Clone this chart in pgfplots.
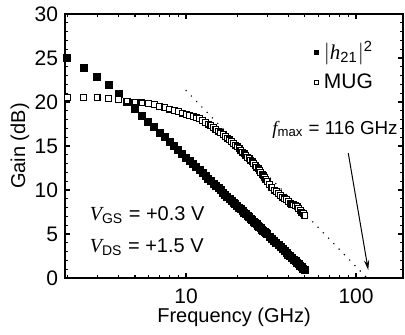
\documentclass[border=0pt]{standalone}
\usepackage{fontspec}
\setmainfont{Liberation Sans}
\newfontfamily\tms{Liberation Serif}
\usepackage{pgfplots}
\pgfplotsset{compat=1.18}
\usetikzlibrary{arrows.meta}
\newcommand{\itv}[1]{{\tms\itshape #1}}
\begin{document}
\begin{tikzpicture}
\begin{axis}[
  scale only axis, width=169pt, height=132pt,
  xmode=log, xmin=1.94, xmax=189, ymin=0, ymax=30,
  xtick={10,100}, xticklabels={10,100},
  minor xtick={2,3,4,5,6,7,8,9,20,30,40,50,60,70,80,90},
  ytick={0,5,10,15,20,25,30}, minor y tick num=4,
  axis line style={line width=0.8pt},
  tick style={line width=0.6pt, black},
  major tick length=2.5pt, minor tick length=1.5pt,
  font=\fontsize{10}{12}\selectfont,
  tick label style={font=\fontsize{10.5}{12}\selectfont},
  /pgf/number format/assume math mode=true,
  xticklabel style={yshift=-2pt},
  xlabel={Frequency (GHz)}, ylabel={Gain (dB)},
  xlabel style={at={(axis description cs:0.5,-0.15)}, anchor=center},
  ylabel style={at={(axis description cs:-0.133,0.5)}, anchor=center},
  clip=false,
  legend style={at={(axis description cs:0.738,0.905)}, anchor=north west, draw=none, fill=none,
     inner sep=0pt, row sep=3.5pt, nodes={inner sep=1pt, anchor=west},
     font=\fontsize{10.5}{12}\selectfont,
     /tikz/every odd column/.append style={column sep=1.5pt}},
  legend cell align=left,
  legend image code/.code={\draw[#1,mark size=1pt] plot coordinates {(0cm,0cm)};},
]
\addplot[only marks, mark=square*, mark size=1.75pt, black] coordinates {
(2,25.0)(2.5,23.9)(3,22.9)(3.5,21.9)(4,20.9)(4.5,20.0)(5,19.2)(5.5,18.44)(6,17.75)(6.5,17.12)(7,16.53)(7.5,15.98)(8,15.46)(8.5,14.98)(9,14.53)(9.5,14.10)(10,13.69)(10.5,13.30)(11,12.93)(11.5,12.58)(12,12.24)(12.5,11.92)(13,11.61)(13.5,11.31)(14,11.02)(14.5,10.74)(15,10.47)(15.5,10.21)(16,9.96)(16.5,9.71)(17,9.47)(17.5,9.24)(18,9.02)(18.5,8.80)(19,8.59)(19.5,8.38)(20,8.18)(20.5,7.99)(21,7.80)(21.5,7.61)(22,7.42)(22.5,7.25)(23,7.07)(23.5,6.90)(24,6.73)(24.5,6.57)(25,6.41)(25.5,6.25)(26,6.10)(26.5,5.95)(27,5.80)(27.5,5.65)(28,5.51)(28.5,5.37)(29,5.23)(29.5,5.09)(30,4.96)(31,4.70)(32,4.45)(33,4.20)(34,3.97)(35,3.73)(36,3.51)(37,3.29)(38,3.08)(39,2.87)(40,2.67)(41,2.48)(42,2.29)(43,2.10)(44,1.92)(45,1.74)(46,1.56)(47,1.39)(48,1.22)(49,1.06)(50,0.90)
};
\addlegendentry{$|$\itv{h}\textsubscript{21}$|$\textsuperscript{2}}
\addplot[only marks, mark=square*, mark size=1.45pt, black, mark options={fill=white, line width=0.6pt}] coordinates {
(2,20.5)(2.5,20.5)(3,20.5)(3.5,20.4)(4,20.3)(4.5,20.1)(5,20.0)(5.5,19.9)(6,19.8)(6.5,19.7)(7,19.5)(7.5,19.4)(8,19.2)(8.5,19.05)(9,18.9)(9.5,18.75)(10,18.6)(10.5,18.5)(11,18.35)(11.5,18.2)(12,18.1)(12.5,17.9)(13,17.7)(13.5,17.5)(14,17.3)(14.5,17.1)(15,16.9)(15.5,16.7)(16,16.5)(16.5,16.3)(17,16.1)(17.5,15.9)(18,15.7)(18.5,15.5)(19,15.3)(19.5,15.1)(20,14.9)(20.5,14.7)(21,14.5)(21.5,14.3)(22,14.1)(22.5,13.9)(23,13.7)(23.5,13.55)(24,13.4)(24.5,13.2)(25,13.0)(25.5,12.8)(26,12.6)(26.5,12.4)(27,12.2)(27.5,12.0)(28,11.8)(28.5,11.6)(29,11.4)(29.5,11.2)(30,11.0)(31,10.6)(32,10.3)(33,10.0)(34,9.8)(35,9.6)(36,9.4)(37,9.2)(38,9.0)(39,8.9)(40,8.7)(41,8.5)(42,8.4)(43,8.3)(44,8.2)(45,8.1)(46,7.9)(47,7.7)(48,7.5)(49,7.3)(50,7.1)
};
\addlegendentry{MUG}
\addplot[black, line width=0.8pt, line cap=round, dash pattern=on 0pt off 3.8pt, forget plot] coordinates {(10,21.3)(116,0)};
\draw[-{Stealth[length=5pt,width=2.6pt]}, line width=0.5pt] (axis cs:90,14.2) -- (axis cs:118,0.9);
\node[anchor=west, inner sep=0pt, font=\fontsize{9.4}{11}\selectfont] at (axis cs:32,16.8) {\itv{f}\textsubscript{max} = 116 GHz};
\node[anchor=west, inner sep=0pt] at (axis cs:2.7,7.2) {\itv{V}\textsubscript{GS} = +0.3 V};
\node[anchor=west, inner sep=0pt] at (axis cs:2.7,3.5) {\itv{V}\textsubscript{DS} = +1.5 V};
\end{axis}
\pgfresetboundingbox
\path[use as bounding box] ([shift={(-32.5pt,-28pt)}]current axis.south west) rectangle ([shift={(170pt,139pt)}]current axis.south west);
\end{tikzpicture}
\end{document}
